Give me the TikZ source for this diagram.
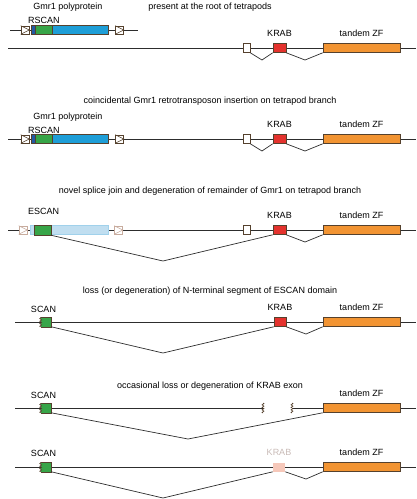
\documentclass[tikz,border=0pt]{standalone}
\usepackage{fontspec}
\setmainfont{Liberation Sans}
\usetikzlibrary{decorations.pathmorphing}

\definecolor{geneline}{RGB}{45,45,45}
\definecolor{exline}{RGB}{85,65,45}
\definecolor{gmrblue}{RGB}{30,158,215}
\definecolor{gmrdark}{RGB}{35,90,165}
\definecolor{scangreen}{RGB}{55,165,72}
\definecolor{krabred}{RGB}{228,50,45}
\definecolor{zforange}{RGB}{242,148,50}
\definecolor{fadeblue}{RGB}{192,222,240}
\definecolor{fadeline}{RGB}{200,172,158}
\definecolor{fadekrab}{RGB}{246,200,186}
\definecolor{fadetext}{RGB}{200,186,182}

\begin{document}
\begin{tikzpicture}[
		x=1pt,y=-1pt,
		font=\fontsize{9}{11}\selectfont,
		txt/.style={anchor=base,inner sep=0pt},
		gene/.style={draw=geneline,line width=0.7pt},
		exon/.style={draw=exline,line width=0.6pt,inner sep=0pt,minimum height=9pt},
		ltr/.style={exon,fill=white,minimum width=8pt,minimum height=8pt},
		ltrfade/.style={ltr,draw=fadeline},
		scanbox/.style={exon,draw=none,fill=scangreen,minimum width=10pt},
		torn/.style={draw=exline,line width=0.6pt,decorate,decoration={zigzag,segment length=2.5pt,amplitude=1pt}},
		lbl/.style={label={[anchor=base,inner sep=0pt,label distance=6.5pt]above:#1}}]
	\useasboundingbox (0,0) rectangle (416,499);

	%% panel 1: present at the root
	\node[txt] (t1) at (210,9) {present at the root of tetrapods};
	\node[txt] (p1) at (68,9) {Gmr1 polyprotein};
	\node[txt,anchor=base west] (r1) at (28,23) {RSCAN};
	\coordinate (m1l) at (10,30); \coordinate (m1r) at (138,30);
	\draw[gene] (m1l) -- (m1r);
	\node (la1) at (25,30) [ltr] {};
	\node (lb1) at (119.5,30) [ltr] {};
	\draw[exline,line width=0.6pt] (la1.north west) -- (la1.east) -- (la1.south west);
	\draw[exline,line width=0.6pt] (lb1.north west) -- (lb1.east) -- (lb1.south west);
	\node (b1) at (69.5,30) [exon,fill=gmrblue,minimum width=77pt] {};
	\node (d1) at (33,30) [exon,fill=gmrdark,minimum width=4pt] {};
	\node (s1) at (43.5,30) [exon,fill=scangreen,minimum width=17pt] {};
	\coordinate (g1l) at (8,48); \coordinate (g1r) at (416,48);
	\draw[gene] (g1l) -- (g1r);
	\node (w1) at (246.5,48) [exon,fill=white,minimum width=7pt] {};
	\node (k1) at (279.5,48) [exon,fill=krabred,minimum width=13pt,lbl=KRAB] {};
	\node (z1) at (361.5,48) [exon,fill=zforange,minimum width=77pt,lbl=tandem ZF] {};
	\coordinate (v1a) at (262,60); \coordinate (v1b) at (305,60);
	\draw[gene] (w1.south east) -- (v1a) -- (k1.south west);
	\draw[gene] (k1.south east) -- (v1b) -- (z1.south west);

	%% panel 2: Gmr1 insertion
	\node[txt] (t2) at (210,103) {coincidental Gmr1 retrotransposon insertion on tetrapod branch};
	\node[txt] (p2) at (68,119) {Gmr1 polyprotein};
	\node[txt,anchor=base west] (r2) at (28,133) {RSCAN};
	\coordinate (g2l) at (8,139); \coordinate (g2r) at (416,139);
	\draw[gene] (g2l) -- (g2r);
	\node (la2) at (25,139) [ltr] {};
	\node (lb2) at (119.5,139) [ltr] {};
	\draw[exline,line width=0.6pt] (la2.north west) -- (la2.east) -- (la2.south west);
	\draw[exline,line width=0.6pt] (lb2.north west) -- (lb2.east) -- (lb2.south west);
	\node (b2) at (69.5,139) [exon,fill=gmrblue,minimum width=77pt] {};
	\node (d2) at (33,139) [exon,fill=gmrdark,minimum width=4pt] {};
	\node (s2) at (43.5,139) [exon,fill=scangreen,minimum width=17pt] {};
	\node (w2) at (246.5,139) [exon,fill=white,minimum width=7pt] {};
	\node (k2) at (279.5,139) [exon,fill=krabred,minimum width=13pt,lbl=KRAB] {};
	\node (z2) at (361.5,139) [exon,fill=zforange,minimum width=77pt,lbl=tandem ZF] {};
	\coordinate (v2a) at (262,151); \coordinate (v2b) at (305,151);
	\draw[gene] (w2.south east) -- (v2a) -- (k2.south west);
	\draw[gene] (k2.south east) -- (v2b) -- (z2.south west);

	%% panel 3: novel splice join
	\node[txt] (t3) at (210,193) {novel splice join and degeneration of remainder of Gmr1 on tetrapod branch};
	\node[txt,anchor=base west] (e3l) at (28,214) {ESCAN};
	\coordinate (g3l) at (8,230); \coordinate (g3r) at (416,230);
	\draw[gene] (g3l) -- (g3r);
	\node (la3) at (23,230) [ltrfade] {};
	\node (lb3) at (118.5,230) [ltrfade] {};
	\draw[fadeline,line width=0.6pt] (la3.north west) -- (la3.east) -- (la3.south west);
	\draw[fadeline,line width=0.6pt] (lb3.north west) -- (lb3.east) -- (lb3.south west);
	\node (b3) at (69,230) [exon,draw=fadeblue!80!gmrblue,fill=fadeblue,minimum width=78pt] {};
	\node (e3) at (42.5,230) [exon,fill=scangreen,minimum width=17pt,minimum height=10pt] {};
	\node (w3) at (246.5,230) [exon,fill=white,minimum width=7pt] {};
	\node (k3) at (279.5,230) [exon,fill=krabred,minimum width=13pt,lbl=KRAB] {};
	\node (z3) at (361.5,230) [exon,fill=zforange,minimum width=77pt,lbl=tandem ZF] {};
	\coordinate (v3a) at (163,261); \coordinate (v3b) at (305,242);
	\draw[gene] (e3.south east) -- (v3a) -- (k3.south west);
	\draw[gene] (k3.south east) -- (v3b) -- (z3.south west);

	%% panel 4: loss of N-terminal segment
	\node[txt] (t4) at (210,293) {loss (or degeneration) of N-terminal segment of ESCAN domain};
	\node[txt] (e4l) at (43.5,312) {SCAN};
	\coordinate (g4l) at (15,322); \coordinate (g4r) at (416,322);
	\draw[gene] (g4l) -- (g4r);
	\node (s4) at (46,322) [scanbox] {};
	\draw[exline,line width=0.6pt] (s4.north west) -- (s4.north east) -- (s4.south east) -- (s4.south west);
	\draw[torn] (s4.south west) -- (s4.north west);
	\node (k4) at (280,322) [exon,fill=krabred,minimum width=12pt,lbl=KRAB] {};
	\node (z4) at (361.5,322) [exon,fill=zforange,minimum width=77pt,lbl=tandem ZF] {};
	\coordinate (v4a) at (163,353); \coordinate (v4b) at (306,334);
	\draw[gene] (s4.south east) -- (v4a) -- (k4.south west);
	\draw[gene] (k4.south east) -- (v4b) -- (z4.south west);

	%% panel 5: loss of KRAB exon
	\node[txt] (t5) at (210,388) {occasional loss or degeneration of KRAB exon};
	\node[txt] (e5l) at (43.5,398) {SCAN};
	\coordinate (g5l) at (15,408); \coordinate (g5r) at (416,408);
	\coordinate (c5a) at (263,408); \coordinate (c5b) at (292,408);
	\draw[gene] (g5l) -- (c5a);
	\draw[gene] (c5b) -- (g5r);
	\draw[torn] ([yshift=5pt]c5a) -- ([yshift=-5pt]c5a);
	\draw[torn] ([yshift=5pt]c5b) -- ([yshift=-5pt]c5b);
	\node (s5) at (46,408) [scanbox] {};
	\draw[exline,line width=0.6pt] (s5.north west) -- (s5.north east) -- (s5.south east) -- (s5.south west);
	\draw[torn] (s5.south west) -- (s5.north west);
	\node (z5) at (361.5,408) [exon,fill=zforange,minimum width=77pt,lbl=tandem ZF] {};
	\coordinate (v5a) at (188,439);
	\draw[gene] (s5.south east) -- (v5a) -- (z5.south west);

	%% panel 6: degenerate KRAB
	\node[txt] (e6l) at (43.5,456) {SCAN};
	\coordinate (g6l) at (15,467); \coordinate (g6r) at (416,467);
	\draw[gene] (g6l) -- (g6r);
	\node (s6) at (46,467) [scanbox] {};
	\draw[exline,line width=0.6pt] (s6.north west) -- (s6.north east) -- (s6.south east) -- (s6.south west);
	\draw[torn] (s6.south west) -- (s6.north west);
	\node (k6) at (279,467) [exon,draw=none,fill=fadekrab,minimum width=12pt,
		label={[anchor=base,inner sep=0pt,label distance=6.5pt,text=fadetext]above:KRAB}] {};
	\node (z6) at (361.5,467) [exon,fill=zforange,minimum width=77pt,lbl=tandem ZF] {};
	\coordinate (v6a) at (163,498); \coordinate (v6b) at (306,479);
	\draw[gene] (s6.south east) -- (v6a) -- (k6.south west);
	\draw[gene] (k6.south east) -- (v6b) -- (z6.south west);
\end{tikzpicture}
\end{document}
